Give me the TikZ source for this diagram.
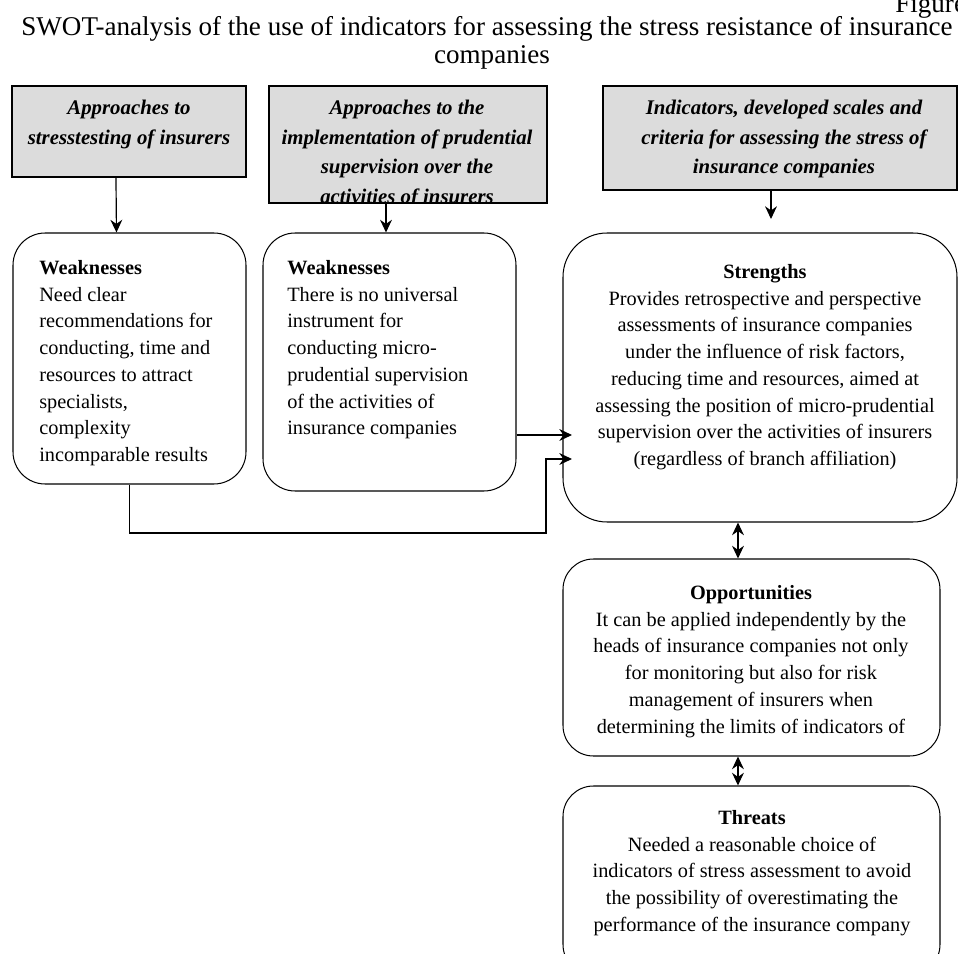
\documentclass[tikz,border=0pt]{standalone}
\usepackage{fontspec}
\setmainfont{Liberation Serif}
\usepackage{xcolor}
\usepackage{tikz}
\usetikzlibrary{arrows.meta,fit}
\definecolor{hdrgray}{RGB}{220,220,220}

\begin{document}
\begin{tikzpicture}[x=0.591pt,y=-0.591pt,
  hdrbox/.style={draw,fill=hdrgray,line width=0.6pt,inner sep=0pt},
  swotbox/.style={draw,line width=0.6pt,inner sep=0pt,rounded corners=#1},
  swotbox/.default=19pt,
  hdrtext/.style={inner sep=0pt,align=center,font=\fontsize{12.3}{17.4}\selectfont\bfseries\itshape},
  bodytext/.style={inner sep=0pt,font=\fontsize{12}{15.8}\selectfont},
  ttltext/.style={inner sep=0pt,font=\fontsize{16}{16.5}\selectfont},
  arr/.style={line width=0.7pt,-{Stealth[length=7.5pt,width=7pt]}},
  dblarr/.style={line width=0.7pt,{Stealth[length=7.5pt,width=7pt]}-{Stealth[length=7.5pt,width=7pt]}}]
\useasboundingbox (0,0) rectangle (958,954);
\clip (0,0) rectangle (958,954);

% title
\node[ttltext,anchor=base west] (fig) at (895,13) {Figure};
\node[ttltext,anchor=base] (ttl1) at (487,36) {SWOT-analysis of the use of indicators for assessing the stress resistance of insurance};
\node[ttltext,anchor=base] (ttl2) at (492,64) {companies};

% gray headers
\node[hdrbox,fit={(12,86) (246,177)}] (hdrA) {};
\node[hdrbox,fit={(269,86) (547,203)}] (hdrB) {};
\node[hdrbox,fit={(603,86) (957,190)}] (hdrC) {};
\node[hdrtext,anchor=north] (hdrAt) at (129,100) {Approaches to\\stresstesting of insurers};
\begin{scope}
\clip (269,86) rectangle (547,203);
\node[hdrtext,anchor=north] (hdrBt) at (407,100) {Approaches to the\\implementation of prudential\\supervision over the\\activities of insurers};
\end{scope}
\node[hdrtext,anchor=north] (hdrCt) at (784,100) {Indicators, developed scales and\\criteria for assessing the stress of\\insurance companies};

% swot boxes
\node[swotbox,fit={(13,233) (246,484)}] (w1) {};
\node[swotbox,fit={(263,233) (516,491)}] (w2) {};
\node[swotbox=26pt,fit={(563,233) (957,522)}] (str) {};
\node[swotbox=18pt,fit={(563,559) (940,756)}] (opp) {};
\node[swotbox=18pt,fit={(563,786) (940,975)}] (thr) {};

\node[bodytext,align=left,anchor=north west] (w1t) at (39,260) {\textbf{Weaknesses}\\Need clear\\recommendations for\\conducting, time and\\resources to attract\\specialists,\\complexity\\incomparable results};
\node[bodytext,align=left,anchor=north west] (w2t) at (287,260) {\textbf{Weaknesses}\\There is no universal\\instrument for\\conducting micro-\\prudential supervision\\of the activities of\\insurance companies};
\node[bodytext,align=center,anchor=north] (strt) at (765,264) {\textbf{Strengths}\\Provides retrospective and perspective\\assessments of insurance companies\\under the influence of risk factors,\\reducing time and resources, aimed at\\assessing the position of micro-prudential\\supervision over the activities of insurers\\(regardless of branch affiliation)};
\node[bodytext,align=center,anchor=north] (oppt) at (751,585) {\textbf{Opportunities}\\It can be applied independently by the\\heads of insurance companies not only\\for monitoring but also for risk\\management of insurers when\\determining the limits of indicators of};
\node[bodytext,align=center,anchor=north] (thrt) at (752,810) {\textbf{Threats}\\Needed a reasonable choice of\\indicators of stress assessment to avoid\\the possibility of overestimating the\\performance of the insurance company};

% connectors
\coordinate (cend) at (771,219);
\coordinate (in1) at (572,435);
\coordinate (in2) at (572,459);
\coordinate (bend) at (546,533);
\draw[arr] ([xshift=-7.7pt]hdrA.south) -- ([xshift=-7.7pt]w1.north);
\draw[arr] ([xshift=-13pt]hdrB.south) -- ([xshift=-13pt]hdrB.south |- w2.north);
\draw[arr] (hdrC.south -| cend) -- (cend);
\draw[arr] (w2.east |- in1) -- (in1);
\draw[arr] (w1.south) |- (bend) |- (in2);
\draw[dblarr] ([xshift=-13pt]str.south) -- ([xshift=-13pt]str.south |- opp.north);
\draw[dblarr] ([xshift=-8pt]opp.south) -- ([xshift=-8pt]opp.south |- thr.north);
\end{tikzpicture}
\end{document}
